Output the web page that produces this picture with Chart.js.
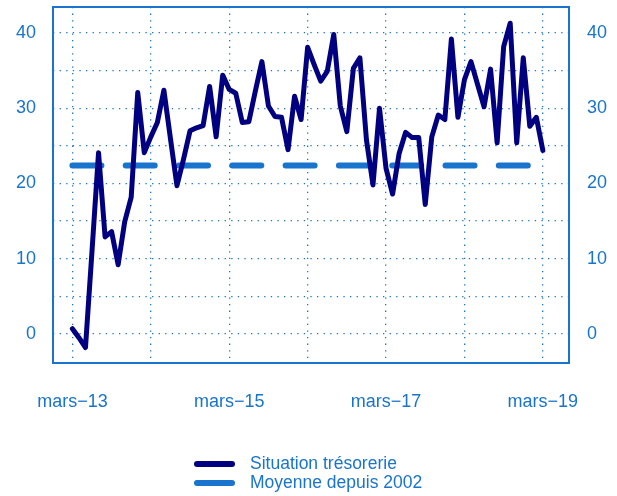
<!DOCTYPE html>
<html>
<head>
<meta charset="utf-8">
<script src="https://cdn.jsdelivr.net/npm/chart.js@4"></script>
<style>
  body { margin: 0; background: #fff; }
  #boite { position: relative; width: 617px; height: 496px; }
  #legende { position: absolute; left: 0; top: 454px; font-family: "Liberation Sans", Arial, sans-serif; font-size: 17.5px; color: #1874CD; }
  .ligne { position: absolute; white-space: nowrap; height: 19px; line-height: 19px; }
  .trait { position: absolute; left: 194px; top: 7px; width: 41px; height: 6px; border-radius: 3px; }
  .texte { position: absolute; left: 250px; top: 0; }
</style>
</head>
<body>
<div id="boite">
  <canvas id="graphique"></canvas>
  <div id="legende"></div>
</div>
<script>
// Situation de trésorerie, mensuel, de mars 2013 à mars 2019
const situationTresorerie = [
  0.7, -0.5, -1.8, 11.0, 24.1, 12.9, 13.6, 9.2, 14.9, 18.2,
  32.1, 24.1, 26.2, 28.1, 32.4, 26.0, 19.7, 23.2, 27.0, 27.4, 27.7, 32.9,
  26.2, 34.4, 32.5, 32.0, 28.1, 28.2, 32.3, 36.2, 30.3, 28.9, 28.8, 24.5,
  31.6, 28.5, 38.1, 35.8, 33.6, 34.9, 39.8, 30.3, 26.9, 35.3, 36.7, 25.8,
  19.8, 30.0, 22.0, 18.6, 24.0, 26.8, 26.1, 26.1, 17.2, 26.2, 29.1, 28.5,
  39.2, 28.8, 33.8, 36.2, 33.2, 30.2, 35.2, 25.4, 38.2, 41.3, 25.4, 36.7,
  27.6, 28.8, 24.4
];
const moyenneDepuis2002 = 22.4;
const etiquettesX = ["mars\u221213", "mars\u221215", "mars\u221217", "mars\u221219"];
const graduationsX = [0, 12, 24, 36, 48, 60, 72];
const graduationsY = [0, 5, 10, 15, 20, 25, 30, 35, 40];

const bleu = "#1874CD";
const marine = "#000080";
const police = { family: "'Liberation Sans', Arial, sans-serif", size: 18 };

const pointsTresorerie = situationTresorerie.map((v, i) => ({ x: i, y: v }));
const pointsMoyenne = [
  { x: 0, y: moyenneDepuis2002 },
  { x: situationTresorerie.length - 1, y: moyenneDepuis2002 }
];

// cadre autour de la zone du graphique
const cadre = {
  id: "cadre",
  beforeDatasetsDraw(chart) {
    const { ctx, chartArea: a } = chart;
    ctx.save();
    ctx.strokeStyle = bleu;
    ctx.lineWidth = 2;
    ctx.strokeRect(a.left, a.top, a.right - a.left, a.bottom - a.top);
    ctx.restore();
  }
};

// pas de marge automatique autour des axes
function sansMarge(axis) {
  axis.paddingTop = 0;
  axis.paddingBottom = 0;
  axis.paddingLeft = 0;
  axis.paddingRight = 0;
}

const ticksY = {
  color: bleu,
  font: police,
  autoSkip: false,
  callback: v => (v % 10 === 0 ? v : "")
};

const chart = new Chart(document.getElementById("graphique"), {
  type: "line",
  data: {
    datasets: [
      {
        label: "Situation trésorerie",
        data: pointsTresorerie,
        borderColor: marine,
        backgroundColor: marine,
        borderWidth: 5,
        borderJoinStyle: "round",
        borderCapStyle: "round",
        pointRadius: 0,
        tension: 0,
        order: 1
      },
      {
        label: "Moyenne depuis 2002",
        data: pointsMoyenne,
        borderColor: bleu,
        backgroundColor: bleu,
        borderWidth: 6,
        borderDash: [29, 24.3],
        borderCapStyle: "round",
        pointRadius: 0,
        order: 2
      }
    ]
  },
  options: {
    responsive: true,
    maintainAspectRatio: false,
    animation: false,
    layout: { padding: { top: 7 } },
    plugins: {
      legend: { display: false },
      tooltip: { enabled: false }
    },
    scales: {
      x: {
        type: "linear",
        min: -2.97,
        max: 76,
        afterBuildTicks: axis => { axis.ticks = graduationsX.map(v => ({ value: v })); },
        afterFit: axis => { axis.height = 133; sansMarge(axis); },
        ticks: {
          color: bleu,
          font: police,
          padding: 28,
          maxRotation: 0,
          autoSkip: false,
          callback: v => (v % 24 === 0 ? etiquettesX[v / 24] : "")
        },
        grid: { color: bleu, lineWidth: 1.3, drawTicks: false },
        border: { display: false, dash: [1.3, 5.3] }
      },
      y: {
        min: -3.86,
        max: 43.46,
        afterBuildTicks: axis => { axis.ticks = graduationsY.map(v => ({ value: v })); },
        afterFit: axis => { axis.width = 53; sansMarge(axis); },
        ticks: { ...ticksY, padding: 17 },
        grid: { color: bleu, lineWidth: 1.3, drawTicks: false },
        border: { display: false, dash: [1.3, 5.3] }
      },
      y2: {
        position: "right",
        min: -3.86,
        max: 43.46,
        afterBuildTicks: axis => { axis.ticks = graduationsY.map(v => ({ value: v })); },
        afterFit: axis => { axis.width = 48; sansMarge(axis); },
        ticks: { ...ticksY, padding: 18 },
        grid: { display: false, drawTicks: false },
        border: { display: false }
      }
    }
  },
  plugins: [cadre]
});

// légende en HTML, construite depuis les séries
const legende = document.getElementById("legende");
chart.data.datasets.forEach((ds, i) => {
  const ligne = document.createElement("div");
  ligne.className = "ligne";
  ligne.style.top = (i * 19) + "px";
  ligne.innerHTML = `<span class="trait" style="background:${ds.borderColor}"></span><span class="texte">${ds.label}</span>`;
  legende.appendChild(ligne);
});
</script>
</body>
</html>
